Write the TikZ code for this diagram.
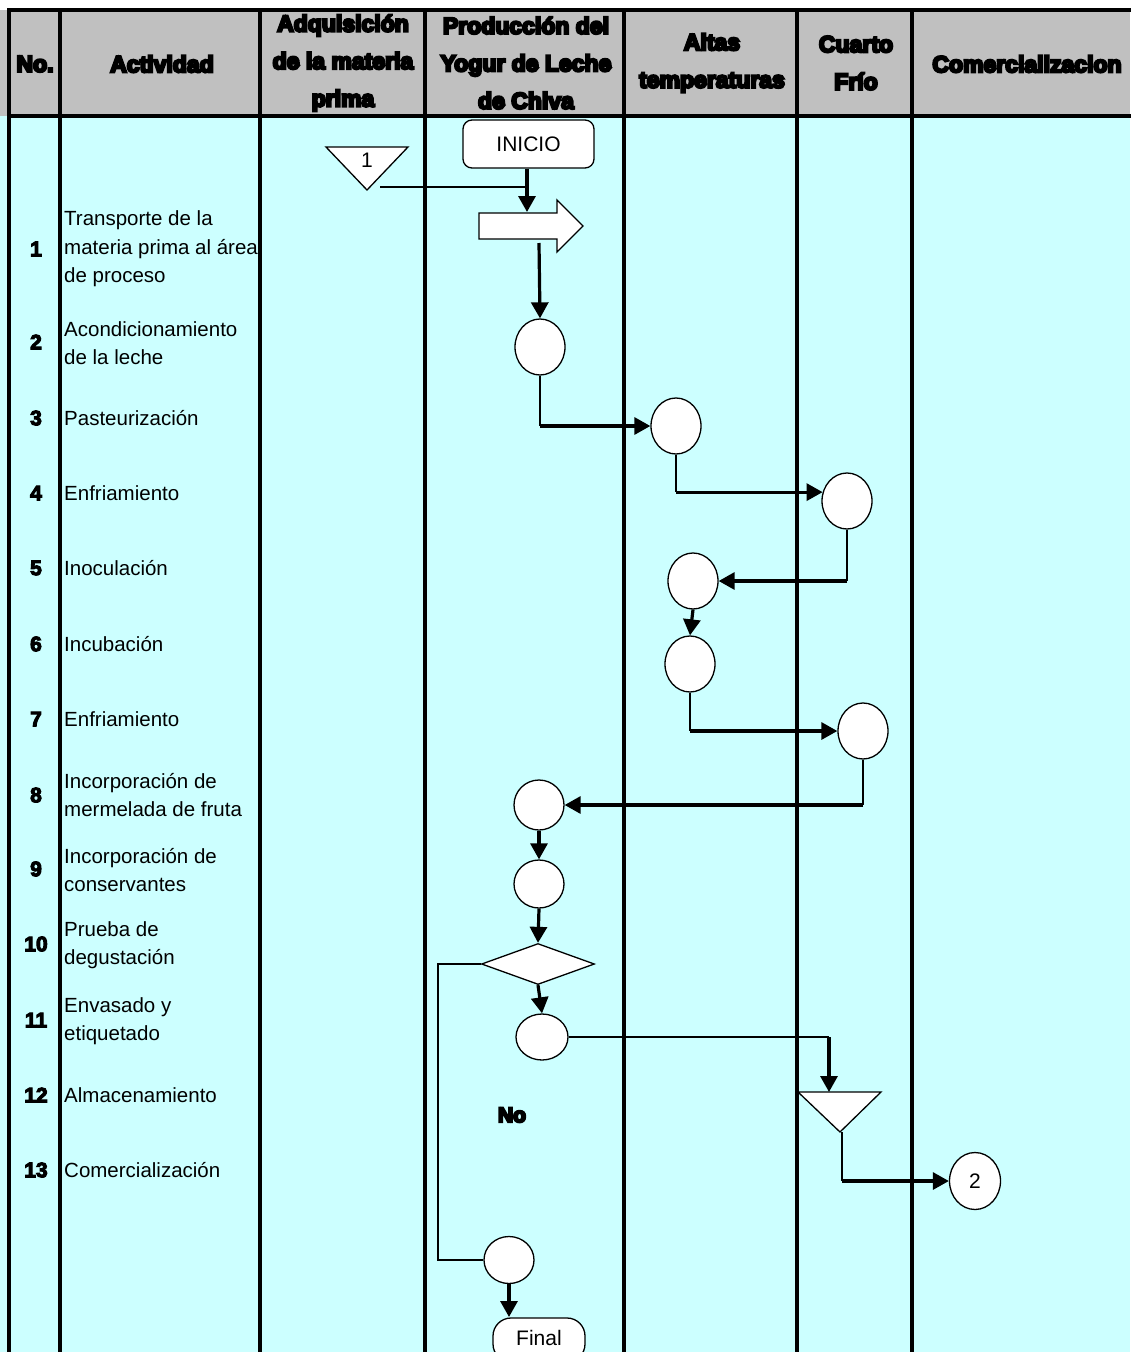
\documentclass[tikz,border=0pt]{standalone}
\usepackage{fontspec}
\setmainfont{Liberation Sans}
\newfontfamily\hdrfont[FakeBold=10]{Liberation Sans Bold}
\newfontfamily\numfont[FakeBold=5]{Liberation Sans Bold}
\usetikzlibrary{shapes.geometric,arrows.meta}
\definecolor{hdrgrey}{HTML}{C0C0C0}
\definecolor{bodycyan}{HTML}{CCFFFF}
\tikzset{
  gridline/.style={line width=4pt, line cap=rect},
  thinc/.style={line width=1.3pt},
  thickc/.style={line width=3.2pt},
  arr/.style={thickc, -{Triangle[length=16pt,width=17pt]}},
  op/.style={ellipse, draw, fill=white, line width=1.3pt, minimum width=50pt, minimum height=56pt, inner sep=0pt},
  hdr/.style={font=\hdrfont\fontsize{23}{37.5}\selectfont, align=center, inner sep=0pt},
  num/.style={font=\numfont\fontsize{21}{25}\selectfont, inner sep=0pt},
  act/.style={font=\fontsize{20.5}{28.6}\selectfont, align=left, anchor=west, inner sep=0pt},
  term/.style={draw, fill=white, line width=1.3pt, rounded corners=9pt, inner sep=0pt, font=\fontsize{21}{24}\selectfont},
  shp/.style={draw, fill=white, line width=1.3pt, line join=miter}
}
\begin{document}
\begin{tikzpicture}[x=1pt, y=-1pt]
\useasboundingbox (0,0) rectangle (1130,1352);
% backgrounds
\fill[white] (0,0) rectangle (1130,10);
\fill[hdrgrey] (0,10) rectangle (1130,116);
\fill[bodycyan] (0,116) rectangle (1130,1352);
% grid
\draw[gridline] (9,10) -- (1132,10);
\draw[gridline] (9,116) -- (1132,116);
\foreach \xx in {9,60,260,425,624,797,912}
  \draw[gridline] (\xx,10) -- (\xx,1356);
% header
\node[hdr] (hNo) at (35,64) {No.};
\node[hdr] (hAct) at (162,64) {Actividad};
\node[hdr] (hAdq) at (343,63) {Adquisición\\de la materia\\prima};
\node[hdr] (hProd) at (526,63) {Producción del\\Yogur de Leche\\de Chiva};
\node[hdr] (hAlt) at (712,63) {Altas\\temperaturas};
\node[hdr] (hCua) at (856,63) {Cuarto\\Frío};
\node[hdr] (hCom) at (1027,64) {Comercializacion};
% numbers
\foreach \n/\yy in {1/249,2/342,3/418,4/493,5/568,6/644,7/719,8/795,9/869,10/944,11/1020,12/1095,13/1170}
  \node[num] (n\n) at (36,\yy) {\n};
% activities
\node[act] (a1) at (64,249) {Transporte de la\\materia prima al área\\de proceso};
\node[act] (a2) at (64,343) {Acondicionamiento\\de la leche};
\node[act] (a3) at (64,418) {Pasteurización};
\node[act] (a4) at (64,493) {Enfriamiento};
\node[act] (a5) at (64,568) {Inoculación};
\node[act] (a6) at (64,644) {Incubación};
\node[act] (a7) at (64,719) {Enfriamiento};
\node[act] (a8) at (64,795) {Incorporación de\\mermelada de fruta};
\node[act] (a9) at (64,870) {Incorporación de\\conservantes};
\node[act] (a10) at (64,945) {Prueba de\\degustación};
\node[act] (a11) at (64,1021) {Envasado y\\etiquetado};
\node[act] (a12) at (64,1095) {Almacenamiento};
\node[act] (a13) at (64,1170) {Comercialización};
% shapes
\draw[shp] (326,147) -- (408,147) -- (367,190) -- cycle;
\node[font=\fontsize{21}{24}\selectfont, inner sep=0pt] (t1lab) at (367,160) {1};
\coordinate (t1out) at (380,187);
\coordinate (t1in) at (527,187);
\node[term, minimum width=131pt, minimum height=48pt] (ini) at (528.5,144) {INICIO};
\draw[shp] (479,213) -- (557,213) -- (557,200) -- (583,226) -- (557,252) -- (557,239) -- (479,239) -- cycle;
\coordinate (blkTop) at (527,212);
\coordinate (blkBot) at (539,243);
\node[op] (c2) at (540,347) {};
\node[op] (c3) at (676,426) {};
\node[op] (c4) at (847,501) {};
\node[op] (c5) at (693,581) {};
\node[op] (c6) at (690,664) {};
\node[op] (c7) at (863,731) {};
\node[op, minimum height=50pt] (c8) at (539,805) {};
\node[op, minimum height=48pt] (c9) at (539,884) {};
\node[diamond, shp, minimum width=113pt, minimum height=41pt, aspect=2.76, inner sep=0pt] (dia) at (538,964) {};
\node[op, minimum width=52pt, minimum height=46pt] (c11) at (542,1037) {};
\draw[shp] (798,1092) -- (881,1092) -- (840,1132) -- cycle;
\coordinate (t2top) at (829,1092);
\coordinate (t2bot) at (842,1132);
\node[op, minimum width=51pt, minimum height=57pt, font=\fontsize{21}{24}\selectfont] (cc2) at (975,1181) {2};
\node[op, minimum width=50pt, minimum height=47pt] (cfin) at (509,1260) {};
\node[term, rounded corners=18pt, minimum width=92pt, minimum height=44pt] (fin) at (539,1340) {};
\node[font=\fontsize{21}{24}\selectfont, inner sep=0pt] (finlab) at (539,1338) {Final};
\node[font=\hdrfont\fontsize{21}{24}\selectfont, inner sep=0pt] (no) at (512,1115) {No};
% connectors
\draw[thinc] (t1out) -- (t1in);
\draw[arr] (ini.south -| blkTop) -- (blkTop);
\draw[arr] (blkBot) -- (c2.north);
\draw[thinc] (c2.south) -- (c2.south |- c3.west);
\draw[arr] (c2.south |- c3.west) -- (c3.west);
\draw[thinc] (c3.south) -- (c3.south |- c4.160);
\draw[arr] (c3.south |- c4.160) -- (c4.160);
\draw[thinc] (c4.south) -- (c4.south |- c5.east);
\draw[arr] (c4.south |- c5.east) -- (c5.east);
\draw[arr] (c5.south) -- (c6.north);
\draw[thinc] (c6.south) -- (c6.south |- c7.west);
\draw[arr] (c6.south |- c7.west) -- (c7.west);
\draw[thinc] (c7.south) -- (c7.south |- c8.east);
\draw[arr] (c7.south |- c8.east) -- (c8.east);
\draw[arr] (c8.south) -- (c9.north);
\draw[arr] (c9.south) -- (dia.north);
\draw[arr] (dia.south) -- (c11.north);
\draw[thinc] (c11.east) -- (c11.east -| t2top);
\draw[arr] (c11.east -| t2top) -- (t2top);
\draw[thinc] (t2bot) -- (t2bot |- cc2.west);
\draw[arr] (t2bot |- cc2.west) -- (cc2.west);
\draw[thinc] (dia.west) -- ++(-43,0) |- (cfin.west);
\coordinate (finTop) at (509,1317);
\draw[arr] (cfin.south) -- (finTop);
\end{tikzpicture}
\end{document}
